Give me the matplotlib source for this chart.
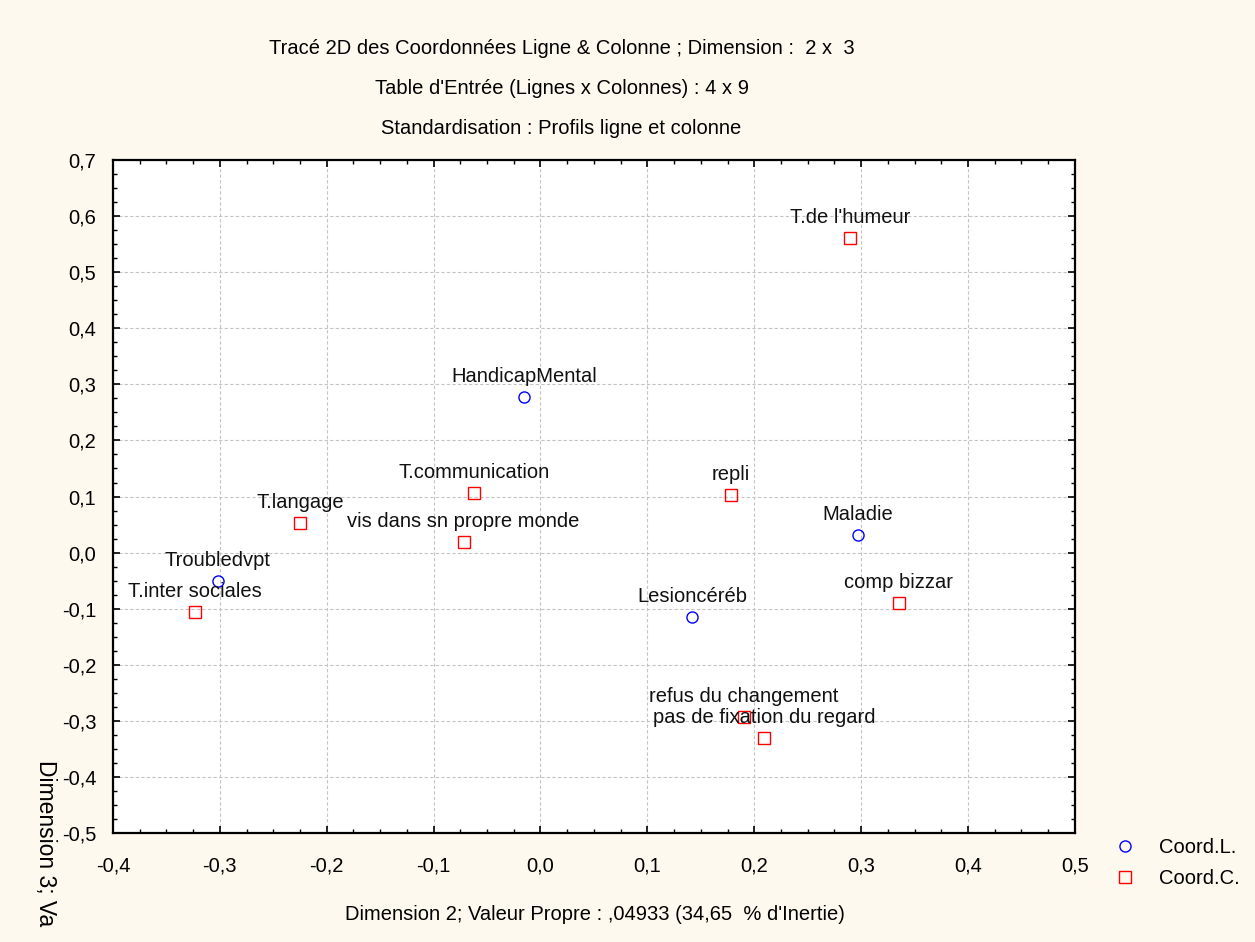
import matplotlib
matplotlib.use("Agg")
import matplotlib.pyplot as plt
from matplotlib.lines import Line2D
from matplotlib.ticker import MultipleLocator, FuncFormatter

# row coordinates (Coord.L.)
row_labels = ["HandicapMental", "Troubledvpt", "Lesioncéréb", "Maladie"]
row_x = [-0.015, -0.302, 0.142, 0.297]
row_y = [0.277, -0.051, -0.115, 0.031]

# column coordinates (Coord.C.)
col_labels = ["T.de l'humeur", "repli", "T.communication", "vis dans sn propre monde",
              "T.langage", "T.inter sociales", "comp bizzar", "refus du changement",
              "pas de fixation du regard"]
col_x = [0.290, 0.178, -0.062, -0.072, -0.225, -0.323, 0.335, 0.190, 0.209]
col_y = [0.561, 0.103, 0.106, 0.019, 0.053, -0.106, -0.090, -0.293, -0.331]

plt.rcParams['font.family'] = ['Liberation Sans', 'DejaVu Sans']
plt.rcParams['axes.unicode_minus'] = False

bg = '#fdf9ef'
fig = plt.figure(figsize=(12.55, 9.42), dpi=100, facecolor=bg)
ax = fig.add_axes([0.0900, 0.1157, 0.7665, 0.7144])
ax.set_facecolor('white')

ax.plot(row_x, row_y, 'o', ls='none', mfc='none', mec='blue', ms=8, mew=1.0, zorder=3)
ax.plot(col_x, col_y, 's', ls='none', mfc='none', mec='red', ms=8, mew=1.0, zorder=3)

for lab, x, y in zip(row_labels + col_labels, row_x + col_x, row_y + col_y):
    ax.annotate(lab, (x, y), xytext=(0, 11), textcoords='offset points',
                ha='center', va='baseline', fontsize=14.5, color='#111111', zorder=4)

ax.set_xlim(-0.4, 0.5)
ax.set_ylim(-0.5, 0.7)
ax.xaxis.set_major_locator(MultipleLocator(0.1))
ax.yaxis.set_major_locator(MultipleLocator(0.1))
ax.xaxis.set_minor_locator(MultipleLocator(0.025))
ax.yaxis.set_minor_locator(MultipleLocator(0.025))
fmt = FuncFormatter(lambda v, p: f"{v:.1f}".replace('.', ',').replace('-0,0', '0,0'))
ax.xaxis.set_major_formatter(fmt)
ax.yaxis.set_major_formatter(fmt)
ax.tick_params(which='both', direction='in', top=True, right=True, color='black')
ax.tick_params(which='major', length=5, width=1.2, labelsize=14.5)
ax.tick_params(which='minor', length=3, width=1.0)
ax.tick_params(axis='x', which='major', pad=17)
ax.tick_params(axis='y', which='major', pad=12)
ax.grid(True, which='major', color='#c4c4c4', ls=(0, (3, 2)), lw=0.8)
for s in ax.spines.values():
    s.set_linewidth(1.6)
    s.set_color('black')

fig.text(0.4475, 1 - 48 / 942, "Tracé 2D des Coordonnées Ligne & Colonne ; Dimension :  2 x  3",
         ha='center', va='center', fontsize=14.5)
fig.text(0.4475, 1 - 88 / 942, "Table d'Entrée (Lignes x Colonnes) : 4 x 9",
         ha='center', va='center', fontsize=14.5)
fig.text(0.4475, 1 - 128 / 942, "Standardisation : Profils ligne et colonne",
         ha='center', va='center', fontsize=14.5)
fig.text(595 / 1255, 1 - 915 / 942, "Dimension 2; Valeur Propre : ,04933 (34,65  % d'Inertie)",
         ha='center', va='center', fontsize=14.5)
fig.text(45 / 1255, 1 - 760 / 942, "Dimension 3; Va",
         ha='center', va='top', rotation=270, fontsize=16.5)

handles = [Line2D([], [], marker='o', ls='none', mfc='none', mec='blue', ms=8, mew=1.0),
           Line2D([], [], marker='s', ls='none', mfc='none', mec='red', ms=8, mew=1.0)]
fig.legend(handles, ["Coord.L.", "Coord.C."], loc='upper left',
           bbox_to_anchor=(1105 / 1255, 1 - 828 / 942), frameon=False,
           fontsize=14.5, handlelength=1.0, handletextpad=1.2, labelspacing=0.6,
           borderpad=0)

fig.savefig("out.png", dpi=100, facecolor=bg)
